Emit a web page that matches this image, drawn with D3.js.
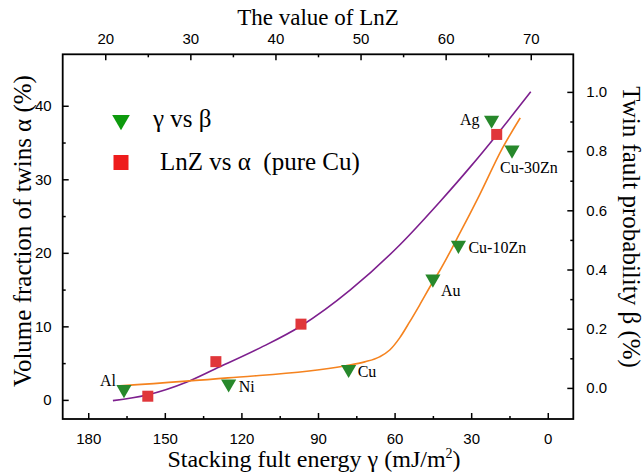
<!DOCTYPE html>
<html>
<head>
<meta charset="utf-8">
<script src="https://cdn.jsdelivr.net/npm/d3@7"></script>
<style>
  body { margin: 0; background: #fff; }
</style>
</head>
<body>
<div id="graph"></div>
<script>

// metals: stacking fault energy (mJ/m2) vs twin fault probability beta
let metalNames = ["Al", "Ni", "Cu", "Au", "Cu-10Zn", "Cu-30Zn", "Ag"];
let metalGamma = [166, 125, 78, 45, 35, 14, 22];
let metalBeta = [-0.005, 0.014, 0.063, 0.368, 0.482, 0.804, 0.905];

// pure Cu: LnZ vs volume fraction of twins alpha
let cuLnZ = [25, 33, 43, 66];
let cuAlpha = [0.5, 5.2, 10.3, 36.1];

// orange fit curve (gamma, beta)
let fitGamma = [167.6, 125.3, 79.6, 71.7, 65.9, 61.9, 58.0, 54.1, 50.2, 45.5, 42.4, 34.6, 26.9, 17.7, 10.8];
let fitBeta = [0.007, 0.034, 0.074, 0.088, 0.105, 0.128, 0.169, 0.223, 0.280, 0.351, 0.395, 0.520, 0.649, 0.811, 0.912];

// purple fit curve (LnZ, alpha)
let fitLnZ = [20.9, 24.9, 29.6, 32.9, 38.2, 43.0, 48.8, 54.6, 59.3, 62.9, 66.0, 70.0];
let fitAlpha = [-0.1, 0.67, 2.44, 4.2, 7.07, 10.05, 14.95, 21.07, 26.92, 31.69, 36.04, 41.9];

let gammaTicks = [180, 150, 120, 90, 60, 30, 0];
let gammaMinor = [165, 135, 105, 75, 45, 15];
let lnzTicks = [20, 30, 40, 50, 60, 70];
let lnzMinor = [25, 35, 45, 55, 65];
let alphaTicks = [0, 10, 20, 30, 40];
let alphaMinor = [5, 15, 25, 35];
let betaTicks = [0.0, 0.2, 0.4, 0.6, 0.8, 1.0];
let betaMinor = [0.1, 0.3, 0.5, 0.7, 0.9];

let width = 644,
    height = 476;
let plotL = 62.7, plotR = 573.3, plotT = 54.3, plotB = 419;

const SERIF = '"Liberation Serif", "Times New Roman", Times, "DejaVu Serif", serif';
const SANS = '"Liberation Sans", Arial, Helvetica, sans-serif';

// where each metal name sits relative to its marker
let labelPos = {
    "Al": [-8, -3, "end"],
    "Ni": [10, 8, "start"],
    "Cu": [9, 8, "start"],
    "Au": [8, 17, "start"],
    "Cu-10Zn": [10, 8, "start"],
    "Cu-30Zn": [-12, 23, "start"],
    "Ag": [-12, 5, "end"]
};

let svg = d3.select("#graph")
    .append("svg")
    .attr("width", width)
    .attr("height", height);

let xG = d3.scaleLinear().domain([190, -10]).range([plotL, plotR]);
let xL = d3.scaleLinear().domain([15, 75]).range([plotL, plotR]);
let yA = d3.scaleLinear().domain([-2.6, 47]).range([plotB, plotT]);
let yB = d3.scaleLinear().domain([-0.105, 1.127]).range([plotB, plotT]);

function axisStyle(g) {
    g.select(".domain").remove();
    g.selectAll(".tick line").attr("stroke", "#000").attr("stroke-width", 1.5);
    g.selectAll(".tick text")
        .style("font-family", SANS)
        .style("font-size", "15px")
        .attr("fill", "#000");
}

// major + minor ticks, all pointing inward
svg.append("g").attr("transform", `translate(0, ${plotB})`)
    .call(d3.axisBottom(xG).tickValues(gammaTicks).tickSize(-6).tickPadding(14).tickFormat(d3.format("d")))
    .call(axisStyle);
svg.append("g").attr("transform", `translate(0, ${plotB})`)
    .call(d3.axisBottom(xG).tickValues(gammaMinor).tickSize(-3).tickFormat(""))
    .call(axisStyle);

svg.append("g").attr("transform", `translate(0, ${plotT})`)
    .call(d3.axisTop(xL).tickValues(lnzTicks).tickSize(-6).tickPadding(10))
    .call(axisStyle);
svg.append("g").attr("transform", `translate(0, ${plotT})`)
    .call(d3.axisTop(xL).tickValues(lnzMinor).tickSize(-3).tickFormat(""))
    .call(axisStyle);

svg.append("g").attr("transform", `translate(${plotL}, 0)`)
    .call(d3.axisLeft(yA).tickValues(alphaTicks).tickSize(-6).tickPadding(11))
    .call(axisStyle);
svg.append("g").attr("transform", `translate(${plotL}, 0)`)
    .call(d3.axisLeft(yA).tickValues(alphaMinor).tickSize(-3).tickFormat(""))
    .call(axisStyle);

svg.append("g").attr("transform", `translate(${plotR}, 0)`)
    .call(d3.axisRight(yB).tickValues(betaTicks).tickSize(-6).tickPadding(13).tickFormat(d3.format(".1f")))
    .call(axisStyle);
svg.append("g").attr("transform", `translate(${plotR}, 0)`)
    .call(d3.axisRight(yB).tickValues(betaMinor).tickSize(-3).tickFormat(""))
    .call(axisStyle);

svg.append("rect")
    .attr("x", plotL).attr("y", plotT)
    .attr("width", plotR - plotL).attr("height", plotB - plotT)
    .attr("fill", "none").attr("stroke", "#000").attr("stroke-width", 1.8);

// fit curves
let purple = d3.range(fitLnZ.length).map(i => [xL(fitLnZ[i]), yA(fitAlpha[i])]);
let orange = d3.range(fitGamma.length).map(i => [xG(fitGamma[i]), yB(fitBeta[i])]);
let line = d3.line().curve(d3.curveMonotoneX);

svg.append("path").attr("d", line(purple))
    .attr("fill", "none").attr("stroke", "#7d1f8e").attr("stroke-width", 1.6);
svg.append("path").attr("d", line(orange))
    .attr("fill", "none").attr("stroke", "#f5831f").attr("stroke-width", 1.6);

// markers
let tri = d3.symbol().type(d3.symbolTriangle).size(100);
let metals = metalNames.map((n, i) => ({ name: n, g: metalGamma[i], b: metalBeta[i] }));

svg.selectAll(".tri").data(metals).enter()
    .append("path")
    .attr("d", tri)
    .attr("transform", d => `translate(${xG(d.g)}, ${yB(d.b)}) rotate(180)`)
    .attr("fill", "#27882b");

svg.selectAll(".sq").data(cuLnZ).enter()
    .append("rect")
    .attr("x", (d, i) => xL(d) - 5.5)
    .attr("y", (d, i) => yA(cuAlpha[i]) - 5.5)
    .attr("width", 11).attr("height", 11)
    .attr("fill", "#e0363a");

svg.selectAll(".lab").data(metals).enter()
    .append("text")
    .attr("x", d => xG(d.g) + labelPos[d.name][0])
    .attr("y", d => yB(d.b) + labelPos[d.name][1])
    .style("text-anchor", d => labelPos[d.name][2])
    .style("font-family", SERIF)
    .style("font-size", "16px")
    .text(d => d.name);

// legend
svg.append("path")
    .attr("d", d3.symbol().type(d3.symbolTriangle).size(135))
    .attr("transform", "translate(121, 120) rotate(180)")
    .attr("fill", "#0d9a0d");
svg.append("text")
    .attr("x", 153).attr("y", 127)
    .style("font-family", SERIF).style("font-size", "25px")
    .text("γ vs β");
svg.append("rect")
    .attr("x", 113.5).attr("y", 155).attr("width", 15).attr("height", 15)
    .attr("fill", "#ee1c1c");
svg.append("text")
    .attr("x", 160).attr("y", 170)
    .style("font-family", SERIF).style("font-size", "25px")
    .style("white-space", "pre")
    .text("LnZ vs α  (pure Cu)");

// axis titles
svg.append("text")
    .attr("x", (plotL + plotR) / 2).attr("y", 25)
    .style("text-anchor", "middle")
    .style("font-family", SERIF).style("font-size", "23px")
    .text("The value of LnZ");

let bt = svg.append("text")
    .attr("x", (plotL + plotR) / 2 - 4).attr("y", 467)
    .style("text-anchor", "middle")
    .style("font-family", SERIF).style("font-size", "24px");
bt.append("tspan").text("Stacking fult energy γ (mJ/m");
bt.append("tspan").attr("dy", -9).style("font-size", "14px").text("2");
bt.append("tspan").attr("dy", 9).text(")");

svg.append("text")
    .attr("transform", "translate(31, 231) rotate(-90)")
    .style("text-anchor", "middle")
    .style("font-family", SERIF).style("font-size", "25px")
    .text("Volume fraction of twins α (%)");

svg.append("text")
    .attr("transform", "translate(623, 227) rotate(90)")
    .style("text-anchor", "middle")
    .style("font-family", SERIF).style("font-size", "25px")
    .text("Twin fault probability β (%)");

</script>
</body>
</html>
